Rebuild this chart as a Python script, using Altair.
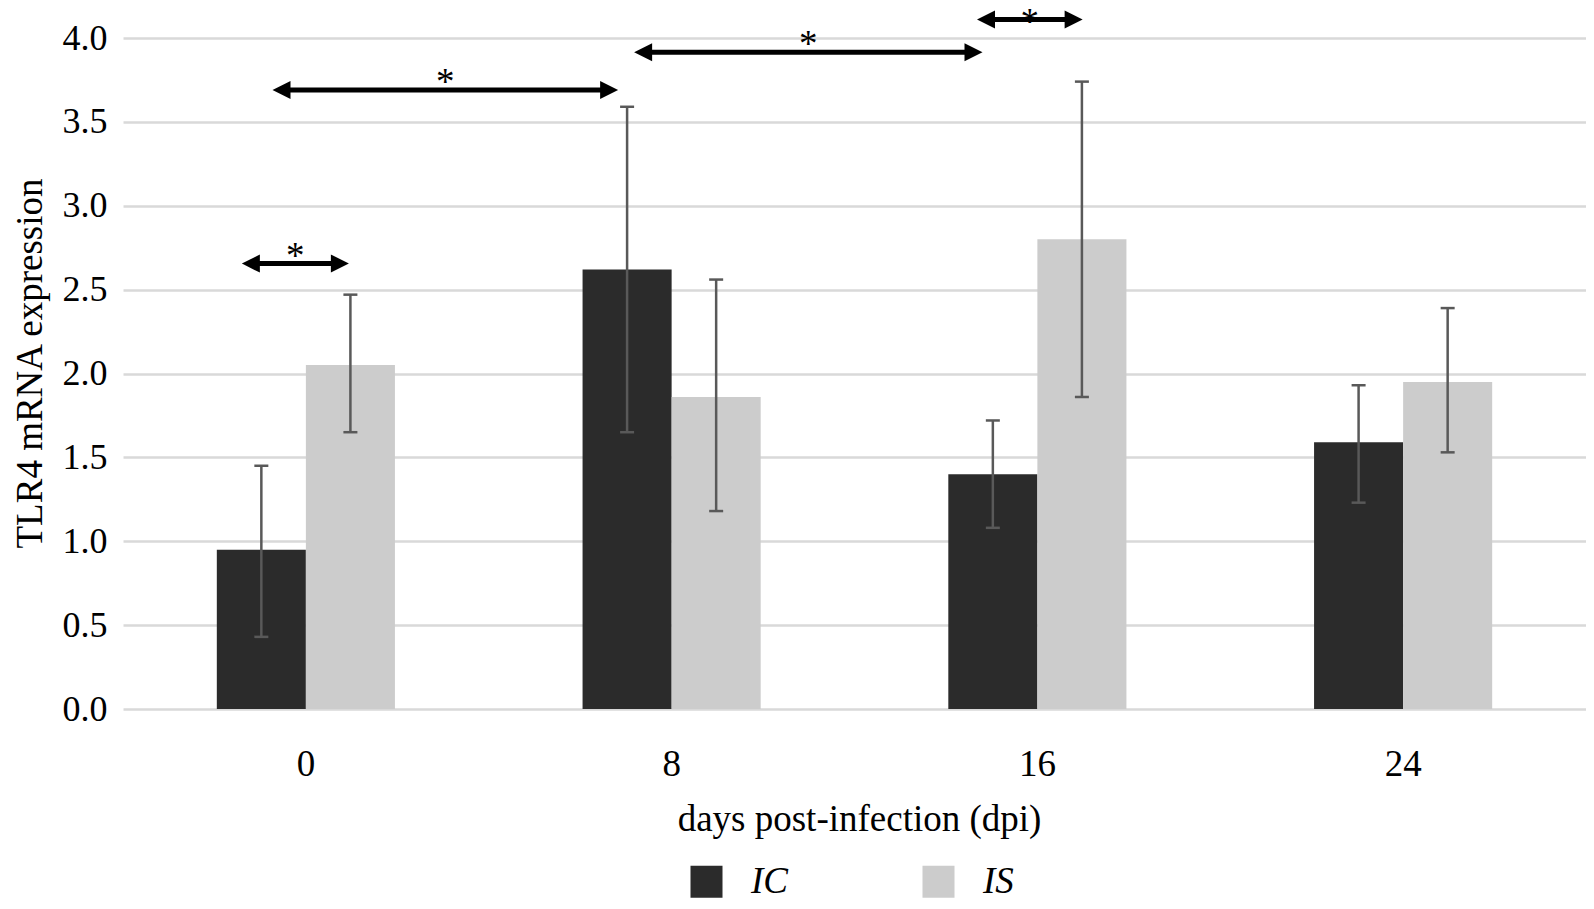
import altair as alt
import pandas as pd

FONT = "Liberation Serif"

# ---- data ----
days = ["0", "8", "16", "24"]
groups = ["IC", "IS"]
ic_mean = [0.95, 2.62, 1.40, 1.59]
ic_low = [0.43, 1.65, 1.08, 1.23]
ic_high = [1.45, 3.59, 1.72, 1.93]
is_mean = [2.05, 1.86, 2.80, 1.95]
is_low = [1.65, 1.18, 1.86, 1.53]
is_high = [2.47, 2.56, 3.74, 2.39]
y_ticks = [0.0, 0.5, 1.0, 1.5, 2.0, 2.5, 3.0, 3.5, 4.0]

# significance arrows (in dpi units / expression units)
arrow_start = [-1.40, -0.73, 7.18, 14.68]
arrow_end = [0.94, 6.83, 14.80, 16.99]
arrow_level = [2.655, 3.69, 3.915, 4.11]
arrow_label = ["*", "*", "*", "*"]

rows = []
for i, d in enumerate(days):
    rows.append(dict(dpi=d, group="IC", mean=ic_mean[i], low=ic_low[i], high=ic_high[i]))
    rows.append(dict(dpi=d, group="IS", mean=is_mean[i], low=is_low[i], high=is_high[i]))
df = pd.DataFrame(rows)

ann = pd.DataFrame(dict(x1=arrow_start, x2=arrow_end, y=arrow_level, label=arrow_label))
ann["mid"] = (ann["x1"] + ann["x2"]) / 2

y_axis = alt.Axis(
    values=y_ticks, format=".1f", title="TLR4 mRNA expression",
    grid=True, gridColor="#d9d9d9", gridWidth=2.5, domain=False, ticks=False,
    labelPadding=16, labelFontSize=36, titleFontSize=37,
    titleX=-93, titleY=325, titleBaseline="middle",
)
y_scale = alt.Scale(domain=[0, 4], nice=False)

x_scale = alt.Scale(type="band", paddingInner=0.513, paddingOuter=0.2565)
x_axis = alt.Axis(
    title="days post-infection (dpi)", labelAngle=0, labelFontSize=37,
    labelPadding=55, labelBaseline="middle", ticks=False, tickSize=0, domain=False,
    grid=False, titleFontSize=37, titleX=736, titleY=110, titleBaseline="middle",
)
x_enc = alt.X("dpi:N", sort=days, scale=x_scale, axis=x_axis)
xo_enc = alt.XOffset("group:N", sort=groups, scale=alt.Scale(paddingInner=0, paddingOuter=0))

bars = alt.Chart(df).mark_bar().encode(
    x=x_enc,
    xOffset=xo_enc,
    y=alt.Y("mean:Q", scale=y_scale, axis=y_axis),
    color=alt.Color(
        "group:N",
        scale=alt.Scale(domain=groups, range=["#2b2b2b", "#cccccc"]),
        legend=alt.Legend(
            title=None, orient="none", legendX=565, legendY=825, direction="horizontal",
            symbolType="square", symbolSize=1024, symbolStrokeWidth=0, symbolOpacity=1,
            labelFontSize=37, labelFontStyle="italic", labelFont=FONT,
            labelOffset=26, columnPadding=132, padding=0,
        ),
    ),
)

err_rule = alt.Chart(df).mark_rule(color="#595959", strokeWidth=2.5).encode(
    x=x_enc, xOffset=xo_enc,
    y=alt.Y("low:Q", scale=y_scale, axis=y_axis),
    y2="high:Q",
)
cap_lo = alt.Chart(df).mark_tick(color="#595959", thickness=2.5, size=14, opacity=1).encode(
    x=x_enc, xOffset=xo_enc, y=alt.Y("low:Q", scale=y_scale, axis=y_axis),
)
cap_hi = alt.Chart(df).mark_tick(color="#595959", thickness=2.5, size=14, opacity=1).encode(
    x=x_enc, xOffset=xo_enc, y=alt.Y("high:Q", scale=y_scale, axis=y_axis),
)

base = alt.layer(bars, err_rule, cap_lo, cap_hi)

ax_scale = alt.Scale(domain=[-4, 28], nice=False, zero=False)

arrow_line = alt.Chart(ann).mark_rule(color="black", strokeWidth=5, xOffset=8, x2Offset=-8).encode(
    x=alt.X("x1:Q", scale=ax_scale, axis=None),
    x2="x2:Q",
    y=alt.Y("y:Q", scale=y_scale, axis=y_axis),
)
left_head = alt.Chart(ann).mark_point(
    shape="M0,0 L2,-1 L2,1 Z", filled=True, color="black", opacity=1, size=324, strokeWidth=0,
).encode(
    x=alt.X("x1:Q", scale=ax_scale, axis=None),
    y=alt.Y("y:Q", scale=y_scale, axis=y_axis),
)
right_head = alt.Chart(ann).mark_point(
    shape="M0,0 L-2,-1 L-2,1 Z", filled=True, color="black", opacity=1, size=324, strokeWidth=0,
).encode(
    x=alt.X("x2:Q", scale=ax_scale, axis=None),
    y=alt.Y("y:Q", scale=y_scale, axis=y_axis),
)
stars_low = alt.Chart(ann).transform_filter(alt.datum.y <= 4).mark_text(
    font=FONT, fontSize=37, color="black", baseline="alphabetic", align="center", dy=4,
).encode(
    x=alt.X("mid:Q", scale=ax_scale, axis=None),
    y=alt.Y("y:Q", scale=y_scale, axis=y_axis),
    text="label:N",
)
stars_top = alt.Chart(ann).transform_filter(alt.datum.y > 4).mark_text(
    font=FONT, fontSize=37, color="black", baseline="alphabetic", align="center", dy=14,
).encode(
    x=alt.X("mid:Q", scale=ax_scale, axis=None),
    y=alt.Y("y:Q", scale=y_scale, axis=y_axis),
    text="label:N",
)

annot = alt.layer(arrow_line, left_head, right_head, stars_low, stars_top)

chart = (
    alt.layer(base, annot)
    .resolve_scale(x="independent")
    .properties(
        width=1463, height=671,
        padding={"left": 115, "top": 30, "right": 0, "bottom": 192},
        autosize=alt.AutoSizeParams(type="none"),
        background="white",
    )
    .configure_view(stroke=None)
    .configure_axis(
        labelFont=FONT, titleFont=FONT, labelColor="black", titleColor="black",
        titleFontWeight="normal",
    )
    .configure_legend(labelFont=FONT, labelColor="black")
)

chart.save("out.html", embed_options={"renderer": "svg", "actions": False})
